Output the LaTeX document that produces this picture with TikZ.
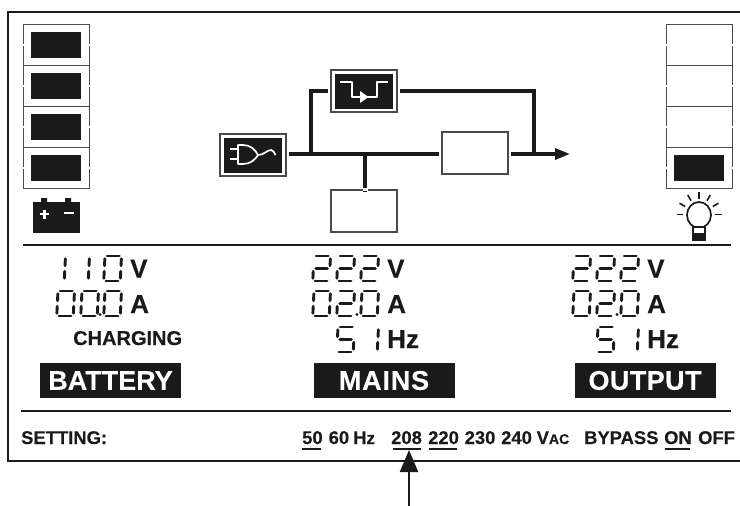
\documentclass[tikz,border=0pt]{standalone}
\usepackage{fontspec}
\setmainfont{Liberation Sans}[BoldFeatures={FakeBold=0.25}]
\usetikzlibrary{arrows.meta,calc}
\definecolor{ink}{HTML}{1A1A1A}
\definecolor{edge}{HTML}{4A4A4A}
\newcommand\fsz[1]{\fontsize{#1}{#1}\selectfont\bfseries}
% seven-segment read-out
\def\sega{(2.2,0)--(14.3,0)}
\def\segb{(16.5,2.8)--(16.5,9.6)}
\def\segc{(16.5,15.4)--(16.5,22.2)}
\def\segd{(2.2,25)--(14.3,25)}
\def\sege{(0,15.4)--(0,22.2)}
\def\segf{(0,2.8)--(0,9.6)}
\def\segg{(2.4,12.5)--(14.1,12.5)}
\newcommand\lcd[3]{\begin{scope}[shift={(#1+2,#2+1)},xslant=0.05]
  \foreach \s in {#3}{\draw[lcdseg] \csname seg\s\endcsname;}
\end{scope}}
\newcommand\dzero[2]{\lcd{#1}{#2}{a,b,c,d,e,f}}
\newcommand\done[2]{\lcd{#1}{#2}{b,c}}
\newcommand\dtwo[2]{\lcd{#1}{#2}{a,b,g,e,d}}
\newcommand\dfive[2]{\lcd{#1}{#2}{a,f,g,c,d}}
\tikzset{
  x=1pt,y=-1pt,
  lcdseg/.style={ink,line width=2.9pt,line cap=round},
  rule/.style={ink,line width=1.5pt},
  cellbox/.style={draw=edge,line width=1pt,minimum width=66pt,minimum height=41pt,inner sep=0pt},
  cellfill/.style={fill=ink,minimum width=50pt,minimum height=26pt,inner sep=0pt},
  framebox/.style={draw=edge,line width=1.3pt,fill=white,minimum width=66pt,minimum height=42pt,inner sep=0pt},
  darkfill/.style={fill=ink,minimum width=58pt,minimum height=35pt,inner sep=0pt},
  wire/.style={ink,line width=3.2pt},
  icon/.style={white,line width=1.7pt,line join=round},
  gap/.style={white,line width=3pt},
  lbl/.style={anchor=base west,inner sep=0pt,text=ink},
  tag/.style={fill=ink,text=white,minimum width=141pt,minimum height=35pt,inner sep=0pt,font=\fsz{27}},
  uline/.style={ink,line width=1.4pt},
}
\begin{document}
\begin{tikzpicture}
\useasboundingbox (0,0) rectangle (740,506);
% outer frame and rules
\draw[rule] (740,12) -- (8,12) -- (8,461) -- (740,461);
\draw[rule] (23,245) -- (731,245);
\draw[rule] (21,411) -- (731,411);
% battery and load columns
\foreach \i/\yy in {1/44.5,2/85.5,3/126.5,4/167.5}{
  \node[cellbox] (batt\i) at (56,\yy) {};
  \node[cellbox] (load\i) at (699,\yy) {};
  \draw[white,line width=2pt] (22,\yy) -- (24,\yy) (88,\yy) -- (90,\yy) (665,\yy) -- (667,\yy) (731,\yy) -- (733,\yy);
  \node[cellfill] (battfill\i) at (56,\yy) {};
}
\node[cellfill] (loadfill) at (699,167.5) {};
% battery icon
\fill[ink] (33,202) rectangle (80,233);
\fill[ink] (41,198) rectangle (47,203) (65,198) rectangle (71,203);
\draw[white,line width=2.6pt] (39.5,214) -- (49,214) (44.2,209.5) -- (44.2,218.5) (64,213) -- (74,213);
% bulb icon
\draw[ink,line width=1.7pt] (699,215) ellipse [x radius=12,y radius=13];
\foreach \a in {0,30,60,90,120,150,180}{
  \draw[ink,line width=1.6pt] ($(699,214.5)+(\a:16pt)$) -- ($(699,214.5)+(\a:22.5pt)$);
}
\draw[ink,line width=1.5pt,fill=white] (693,227) rectangle (705,234);
\fill[ink] (692,234) rectangle (705.5,240.5);
% power-flow boxes
\node[framebox] (plug) at (253,155) {};
\node[darkfill] (plugfill) at (253,155) {};
\node[framebox] (bypass) at (364,91) {};
\node[darkfill] (bypassfill) at (364,91.5) {};
\node[framebox] (inverter) at (475,153) {};
\node[framebox] (charger) at (364,211) {};
\draw[icon] (230,149) -- (238,149) (230,159) -- (238,159);
\draw[icon] (238,145) -- (243,145) .. controls (250,145) and (255,149) .. (258,155)
  .. controls (255,160) and (250,164) .. (243,164) -- (238,164) -- cycle;
\draw[icon] (258,155) .. controls (264,155) and (267,150) .. (271,150) .. controls (273,150) and (274,152) .. (275.5,155);
\draw[icon] (340,82) -- (352,82) -- (352,97) -- (377,97) -- (377,82) -- (388,82);
\fill[white] (360,91) -- (368.5,97) -- (360,103) -- cycle;
% connectors
\coordinate (busA) at (311,154);
\coordinate (busB) at (365,154);
\coordinate (busC) at (534,154);
\coordinate (busEnd) at (570,154);
\coordinate (topL) at (311,91);
\coordinate (topR) at (534,91);
\draw[wire] ([xshift=2.5pt]plug.east |- busA) -- (busA);
\draw[wire] (busA) -- ([xshift=-2pt]inverter.west |- busA);
\draw[wire,line join=miter] (busA) -- (topL) -- ([xshift=-2.5pt]bypass.west |- topL);
\draw[wire,line join=miter] ([xshift=2.5pt]bypass.east |- topR) -- (topR) -- (busC);
\draw[wire] ([xshift=2.5pt]inverter.east |- busC) -- (busC);
\draw[wire,-{Triangle[length=15pt,width=11pt]}] (busC) -- (busEnd);
\draw[wire] (busB) -- ([yshift=-2.5pt]busB |- charger.north);
\draw[gap] (charger.north -| busB) ++(-2.5,0) -- ++(5,0);
% battery read-out
\done{47}{255}\done{71}{255}\dzero{103}{255}
\node[lbl,font=\fsz{26}] (battV) at (130,277.5) {V};
\dzero{56}{290}\dzero{80}{290}\dzero{103}{290}
\fill[ink] (100,314.5) circle (1.6pt);
\node[lbl,font=\fsz{26}] (battA) at (130,313) {A};
\node[lbl,font=\fsz{20}] (charging) at (73,345) {CHARGING};
\node[tag,minimum width=141pt] (battery) at (110.5,380.5) {BATTERY};
% mains read-out
\foreach \dx/\nm in {0/mains,260/output}{
  \dtwo{312+\dx}{255}\dtwo{336+\dx}{255}\dtwo{360+\dx}{255}
  \dzero{312+\dx}{290}\dtwo{336+\dx}{290}\dzero{360+\dx}{290}
  \fill[ink] (357+\dx,314.5) circle (1.6pt);
  \dfive{336+\dx}{326}\done{360+\dx}{326}
  \node[lbl,font=\fsz{26}] (\nm V) at (387+\dx,277.5) {V};
  \node[lbl,font=\fsz{26}] (\nm A) at (387+\dx,313) {A};
  \node[lbl,font=\fsz{26}] (\nm Hz) at (387+\dx,348) {Hz};
}
\node[tag] (mainstag) at (384,380.5) {\addfontfeature{LetterSpace=3}MAINS};
\node[tag] (outputtag) at (645,380.5) {\addfontfeature{LetterSpace=1.5}OUTPUT};
% settings row
\node[lbl,font=\fsz{18.4}] (setting) at (21,444) {SETTING:};
\node[lbl,font=\fsz{18.4}] (s50) at (302,444) {50};
\node[lbl,font=\fsz{18.4}] (s60) at (328.5,444) {60};
\node[lbl,font=\fsz{18.4}] (shz) at (353,444) {H\fontsize{17}{17}\selectfont z};
\node[lbl,font=\fsz{18.4}] (s208) at (391,444) {208};
\node[lbl,font=\fsz{18.4}] (s220) at (428,444) {220};
\node[lbl,font=\fsz{18.4}] (s230) at (464.5,444) {230};
\node[lbl,font=\fsz{18.4}] (s240) at (501,444) {240};
\node[lbl,font=\fsz{18.4}] (svac) at (536.5,444) {V\fontsize{14}{14}\selectfont AC};
\node[lbl,font=\fsz{18.4}] (sby) at (584,444) {BYPASS};
\node[lbl,font=\fsz{18.4}] (son) at (664,444) {ON};
\node[lbl,font=\fsz{18.4}] (soff) at (698,444) {OFF};
\draw[uline] (302,449) -- (321,449) (393,449) -- (421,449) (429,449) -- (457,449) (664.5,449) -- (689.5,449);
% pointer arrow
\coordinate (ptrStart) at (409,506);
\coordinate (ptrEnd) at (409,450);
\draw[ink,line width=2.2pt,-{Triangle[length=22pt,width=18pt]}] (ptrStart) -- (ptrEnd);
\end{tikzpicture}
\end{document}
